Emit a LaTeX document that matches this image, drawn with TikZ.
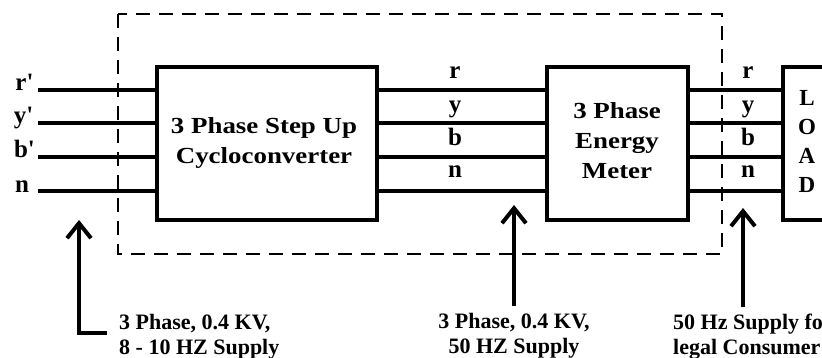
\documentclass[tikz,border=0pt]{standalone}
\usepackage{fontspec}
\setmainfont{Liberation Serif}
\newfontfamily\boxfont{Liberation Serif}[FakeStretch=1.17]
\usetikzlibrary{arrows.meta}
\begin{document}
\begin{tikzpicture}[x=1pt,y=-1pt,
  blk/.style={draw, line width=4pt, minimum height=153pt, inner sep=0pt},
  wire/.style={line width=4pt},
  arr/.style={line width=4pt, -{Straight Barb[length=15pt,width=24pt]}},
  frame/.style={line width=1.3pt, dash pattern=on 14pt off 9pt},
  lbl/.style={font=\fontsize{25}{25}\selectfont\bfseries, inner sep=0pt, anchor=base},
  boxtxt/.style={font=\boxfont\fontsize{23}{30}\selectfont\bfseries, align=center, inner sep=0pt, anchor=north},
  note/.style={font=\fontsize{22}{25}\selectfont\bfseries, inner sep=0pt, anchor=north}]
\useasboundingbox (0,0) rectangle (822,358);
\clip (0,0) rectangle (822,358);
% dashed frame
\draw[frame] (118,14) rectangle (722,254);
% boxes
\node[blk, minimum width=220pt] (cyc) at (267,143.5) {};
\node[blk, minimum width=141pt] (em) at (617.5,143.5) {};
\node[blk, minimum width=57pt] (load) at (811.5,143.5) {};
\node[boxtxt] (cyct) at (264,117) {3 Phase Step Up\\Cycloconverter};
\node[boxtxt] (emt) at (617,102.5) {3 Phase\\Energy\\Meter};
\node[font=\fontsize{23}{29}\selectfont\bfseries, align=center, inner sep=0pt, anchor=north] (loadt) at (807,90.5) {L\\O\\A\\D};
% wires
\foreach \i/\yy in {1/90,2/123,3/157,4/191}{
  \coordinate (in\i) at (38,\yy);
  \draw[wire] (in\i) -- (in\i -| cyc.west);
  \draw[wire] (cyc.east |- in\i) -- (em.west |- in\i);
  \draw[wire] (em.east |- in\i) -- (load.west |- in\i);
}
% labels
\node[lbl] (lr) at (24.5,91) {r\textquotesingle};
\node[lbl] (ly) at (23.5,124) {y\textquotesingle};
\node[lbl] (lb) at (24.5,158) {b\textquotesingle};
\node[lbl] (ln) at (22,193) {n};
\foreach \t/\yy [count=\k] in {r/79,y/113,b/146,n/178}{
  \node[lbl] (m\k) at (455,\yy) {\t};
  \node[lbl] (o\k) at (748,\yy) {\t};
}
% notes
\node[note, anchor=north west, align=left] (n1) at (119,314) {3 Phase, 0.4 KV,\\8 - 10 HZ Supply};
\node[note, align=center] (n2) at (514,313) {3 Phase, 0.4 KV,\\50 HZ Supply};
\node[note, anchor=north west, align=left] (n3) at (673,314) {50 Hz Supply for\\legal Consumer};
% arrows
\coordinate (a1s) at (107,333);
\coordinate (a1t) at (79,220);
\draw[arr] (a1s) -| (a1t);
\coordinate (a2t) at (514,205);
\draw[arr] (n2.north |- 0,306) -- (a2t);
\coordinate (a3t) at (743,208);
\draw[arr] (743,307) -- (a3t);
\end{tikzpicture}
\end{document}
